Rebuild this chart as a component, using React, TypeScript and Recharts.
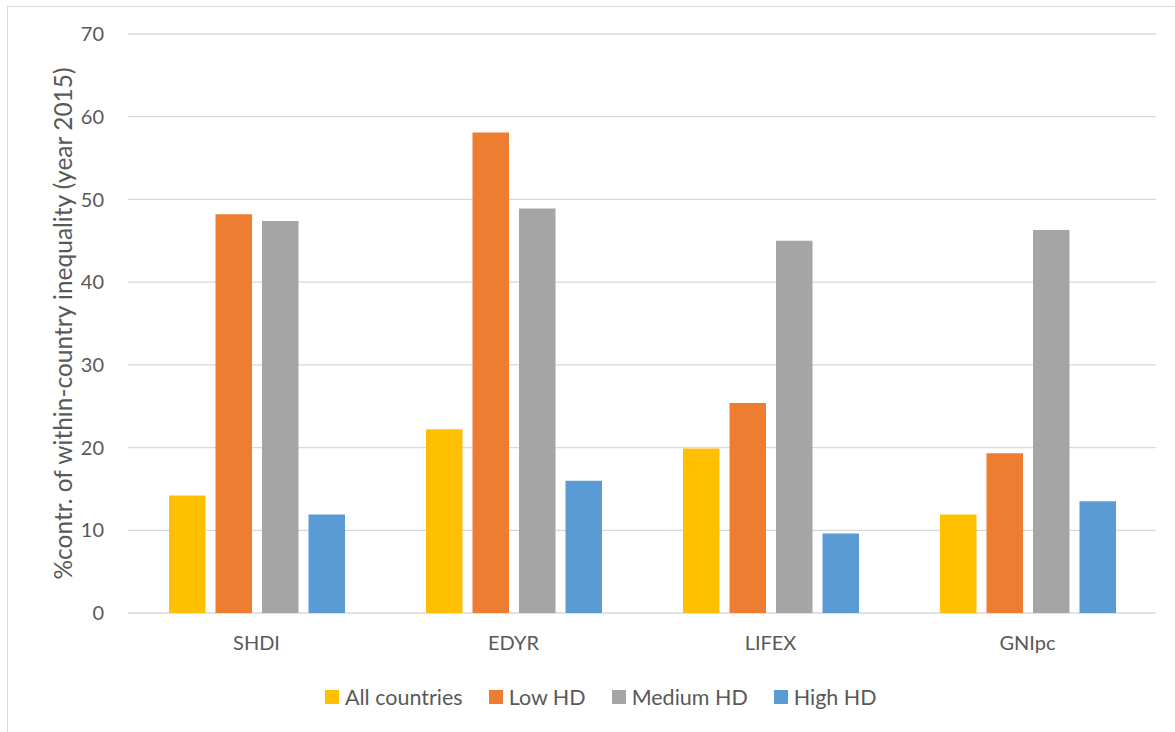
import React from "react";
import {
  BarChart,
  Bar,
  XAxis,
  YAxis,
  CartesianGrid,
  Legend,
} from "recharts";

const indicators = ["SHDI", "EDYR", "LIFEX", "GNIpc"];
const allCountries = [14.2, 22.2, 19.9, 11.9];
const lowHD = [48.2, 58.1, 25.4, 19.3];
const mediumHD = [47.4, 48.9, 45.0, 46.3];
const highHD = [11.9, 16.0, 9.6, 13.5];
const yTicks = [0, 10, 20, 30, 40, 50, 60, 70];

const seriesList = [
  { key: "all", name: "All countries", color: "#FFC000", values: allCountries },
  { key: "low", name: "Low HD", color: "#ED7D31", values: lowHD },
  { key: "medium", name: "Medium HD", color: "#A5A5A5", values: mediumHD },
  { key: "high", name: "High HD", color: "#5B9BD5", values: highHD },
];

const data = indicators.map((name, i) => {
  const row: Record<string, string | number> = { name };
  seriesList.forEach((s) => {
    row[s.key] = s.values[i];
  });
  return row;
});

const FONT = "Lato, 'Open Sans', sans-serif";
const TEXT = "#595959";

function LegendRow() {
  return (
    <div style={{ display: "flex", alignItems: "center", fontFamily: FONT, fontSize: 21.5, color: TEXT }}>
      {seriesList.map((s) => (
        <div key={s.key} style={{ display: "flex", alignItems: "center", marginRight: 26 }}>
          <span style={{ width: 14, height: 14, background: s.color, display: "inline-block", marginRight: 6 }} />
          <span style={{ lineHeight: "26px" }}>{s.name}</span>
        </div>
      ))}
    </div>
  );
}

function AxisTitle(props: any) {
  const vb = props.viewBox || { x: 0, y: 0, height: 0 };
  const x = vb.x + 54;
  const y = vb.y + vb.height / 2;
  return (
    <text
      x={x}
      y={y}
      transform={`rotate(-90, ${x}, ${y})`}
      textAnchor="middle"
      dominantBaseline="central"
      fill={TEXT}
      fontFamily={FONT}
      fontSize={24.5}
    >
      %contr. of within-country inequality (year 2015)
    </text>
  );
}

export default function App() {
  return (
    <div
      style={{
        position: "absolute",
        left: 7,
        top: 6,
        width: 1168,
        height: 726,
        boxSizing: "border-box",
        borderLeft: "1px solid #d9d9d9",
        borderTop: "1px solid #d9d9d9",
        background: "#fff",
      }}
    >
      <BarChart
        width={1167}
        height={725}
        data={data}
        margin={{ top: 27, right: 19, left: 0, bottom: 59 }}
        barGap={10}
        barSize={36.5}
      >
        <CartesianGrid vertical={false} stroke="#d9d9d9" strokeWidth={1.3} />
        <XAxis
          dataKey="name"
          height={60}
          axisLine={false}
          tickLine={false}
          tickSize={0}
          tickMargin={23}
          tick={{ fill: TEXT, fontFamily: FONT, fontSize: 20 }}
        />
        <YAxis
          width={120}
          domain={[0, 70]}
          ticks={yTicks}
          interval={0}
          axisLine={false}
          tickLine={false}
          tickSize={0}
          tickMargin={24}
          tick={{ fill: TEXT, fontFamily: FONT, fontSize: 20 }}
          label={{ content: AxisTitle }}
        />
        <Legend
          layout="horizontal"
          verticalAlign="middle"
          align="center"
          content={() => <LegendRow />}
          wrapperStyle={{ top: 677, left: 317, width: "auto", height: 26 }}
        />
        {seriesList.map((s) => (
          <Bar key={s.key} dataKey={s.key} name={s.name} fill={s.color} isAnimationActive={false} />
        ))}
      </BarChart>
    </div>
  );
}
